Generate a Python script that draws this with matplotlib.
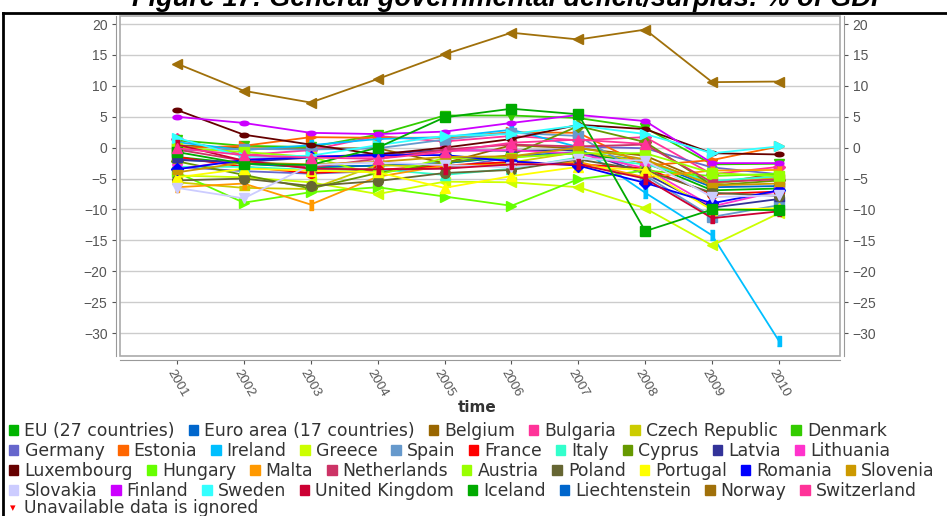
import numpy as np
import matplotlib
matplotlib.use('Agg')
import matplotlib.pyplot as plt
from matplotlib.patches import Patch, Rectangle
from matplotlib.lines import Line2D

plt.rcParams['font.family'] = ['Liberation Sans', 'DejaVu Sans']

years = ['2001', '2002', '2003', '2004', '2005', '2006', '2007', '2008', '2009', '2010']
nan = np.nan

# general government deficit (-) / surplus (+), % of GDP
eu27 = [-1.5, -2.6, -3.2, -2.9, -2.5, -1.5, -0.9, -2.4, -6.9, -6.6]
euro17 = [-1.9, -2.6, -3.1, -2.9, -2.5, -1.4, -0.7, -2.1, -6.4, -6.2]
belgium = [0.4, -0.1, -0.1, -0.1, -2.5, 0.4, -0.1, -1.3, -5.9, -4.1]
bulgaria = [1.4, -1.2, -0.4, 1.9, 1.0, 1.9, 1.2, 1.7, -4.3, -3.1]
czech = [-5.6, -6.5, -6.7, -2.8, -3.2, -2.4, -0.7, -2.2, -5.8, -4.8]
denmark = [1.2, 0.3, 0.1, 2.1, 5.2, 5.2, 4.8, 3.2, -2.7, -2.6]
germany = [-3.1, -3.8, -4.2, -3.8, -3.3, -1.6, 0.2, -0.1, -3.2, -4.3]
estonia = [-0.1, 0.3, 1.7, 1.6, 1.6, 2.5, 2.4, -2.9, -2.0, 0.2]
ireland = [0.9, -0.4, 0.4, 1.4, 1.7, 2.9, 0.1, -7.3, -14.2, -31.3]
greece = [-4.5, -4.8, -5.6, -7.5, -5.5, -5.6, -6.4, -9.8, -15.8, -10.6]
spain = [-0.5, -0.2, -0.3, -0.1, 1.3, 2.4, 1.9, -4.5, -11.2, -9.3]
france = [-1.5, -3.1, -4.1, -3.6, -2.9, -2.3, -2.7, -3.3, -7.5, -7.1]
italy = [-3.1, -3.1, -3.6, -3.5, -4.4, -3.4, -1.6, -2.7, -5.4, -4.6]
cyprus = [-2.2, -4.4, -6.6, -4.1, -2.4, -1.2, 3.5, 0.9, -6.1, -5.3]
latvia = [-2.0, -2.3, -1.6, -1.0, -0.4, -0.5, -0.4, -4.2, -9.7, -8.3]
lithuania = [-3.5, -1.9, -1.3, -1.5, -0.5, -0.4, -1.0, -3.3, -9.5, -7.0]
luxembourg = [6.1, 2.1, 0.5, -1.1, 0.0, 1.4, 3.7, 3.0, -0.9, -1.1]
hungary = [-4.0, -8.9, -7.2, -6.4, -7.9, -9.4, -5.1, -3.7, -4.6, -4.2]
malta = [-6.4, -5.8, -9.2, -4.7, -2.9, -2.8, -2.3, -4.8, -3.7, -3.6]
netherlands = [-0.3, -2.1, -3.2, -1.8, -0.3, 0.5, 0.2, 0.5, -5.6, -5.1]
austria = [0.0, -0.7, -1.5, -4.4, -1.7, -1.6, -0.9, -0.9, -4.1, -4.6]
poland = [-5.3, -5.0, -6.2, -5.4, -4.1, -3.6, -1.9, -3.7, -7.3, -7.8]
portugal = [-4.8, -3.4, -3.7, -4.0, -6.5, -4.6, -3.1, -3.6, -10.1, -9.8]
romania = [-3.5, -2.0, -1.5, -1.2, -1.2, -2.2, -2.9, -5.7, -9.0, -6.9]
slovenia = [-4.0, -2.4, -2.7, -2.3, -1.5, -1.4, 0.0, -1.9, -6.1, -5.8]
slovakia = [-6.5, -8.2, -2.8, -2.4, -2.8, -3.2, -1.8, -2.1, -8.0, -7.7]
finland = [5.0, 4.0, 2.4, 2.2, 2.6, 4.0, 5.3, 4.3, -2.5, -2.5]
sweden = [1.6, -1.5, -1.3, 0.4, 1.9, 2.2, 3.6, 2.2, -0.9, 0.2]
uk = [0.5, -2.1, -3.4, -3.5, -3.4, -2.7, -2.7, -5.0, -11.4, -10.3]
iceland = [-0.7, -2.6, -2.8, 0.0, 4.9, 6.3, 5.4, -13.5, -10.0, -10.1]
liechtenstein = [nan] * 10
norway = [13.6, 9.2, 7.3, 11.1, 15.1, 18.6, 17.5, 19.1, 10.6, 10.7]
switzerland = [-0.1, -1.2, -1.6, -1.8, -0.7, 0.8, 1.3, 0.6, nan, nan]

names = ['EU (27 countries)', 'Euro area (17 countries)', 'Belgium', 'Bulgaria', 'Czech Republic',
         'Denmark', 'Germany', 'Estonia', 'Ireland', 'Greece', 'Spain', 'France', 'Italy',
         'Cyprus', 'Latvia', 'Lithuania', 'Luxembourg', 'Hungary', 'Malta', 'Netherlands',
         'Austria', 'Poland', 'Portugal', 'Romania', 'Slovenia', 'Slovakia', 'Finland',
         'Sweden', 'United Kingdom', 'Iceland', 'Liechtenstein', 'Norway', 'Switzerland']
series = [eu27, euro17, belgium, bulgaria, czech, denmark, germany, estonia, ireland, greece,
          spain, france, italy, cyprus, latvia, lithuania, luxembourg, hungary, malta,
          netherlands, austria, poland, portugal, romania, slovenia, slovakia, finland,
          sweden, uk, iceland, liechtenstein, norway, switzerland]
colors = ['#00B400', '#0066CC', '#996600', '#FF3399', '#CCCC00', '#33CC00', '#6666CC',
          '#FF6600', '#00BFFF', '#CCFF00', '#6699CC', '#FF0000', '#33FFCC', '#669900',
          '#333399', '#FF33CC', '#660000', '#66FF00', '#FF9900', '#CC3366', '#99FF00',
          '#666633', '#FFFF00', '#0000FF', '#CC9900', '#CCCCFF', '#CC00FF', '#33FFFF',
          '#CC0033', '#00AA00', '#0066CC', '#A0700A', '#FF3399']

# marker shapes (jfreechart style)
t = np.linspace(0, 2 * np.pi, 25)
hrect = [(-1, -0.5), (1, -0.5), (1, 0.5), (-1, 0.5)]
vrect = [(-0.5, -1), (0.5, -1), (0.5, 1), (-0.5, 1)]
hell = list(zip(np.cos(t), 0.5 * np.sin(t)))
markers = ['s', 'o', '^', 'D', hrect, 'v', hell, '>', vrect, '<',
           's', 'o', '^', 'D', hrect, 'v', hell, '>', vrect, '<',
           's', 'o', '^', 'D', hrect, 'v', hell, '>', vrect, 's',
           'o', '<', '^']

fig = plt.figure(figsize=(9.47, 5.16), dpi=100)
ax = fig.add_axes([120 / 947, 1 - 356 / 516, 720 / 947, 340 / 516])

x = np.arange(len(years))
for vals, c, m in zip(series, colors, markers):
    ms = 7 if m in ('s', 'o') else 6.5
    ax.plot(x, vals, color=c, lw=1.3, marker=m, ms=ms, mec=c, mfc=c, zorder=3)

# spines first: set_position resets the ticks
for s in ['left', 'right', 'bottom']:
    ax.spines[s].set_position(('outward', 3))
    ax.spines[s].set_color('#999999')
ax.spines['top'].set_visible(False)

ax.set_xlim(-0.85, 9.91)
ax.set_ylim(-33.7, 21.3)
ax.set_yticks(range(-30, 25, 5))
ax.set_xticks(x)
ax.set_xticklabels(years)
ax.grid(axis='y', color='#cccccc', lw=1)
ax.set_axisbelow(True)
ax.tick_params(axis='y', labelright=True, right=True, labelsize=10, colors='#555555',
               length=3, width=0.8, pad=3)
ax.tick_params(axis='x', labelsize=9.5, colors='#555555', length=3, width=0.8, pad=2,
               labelrotation=-60)
ax.add_patch(Rectangle((0, 0), 1, 1, transform=ax.transAxes, fill=False,
                       ec='#aaaaaa', lw=1.2, zorder=4, clip_on=False))
fig.text(477 / 947, 1 - 408 / 516, 'time', fontsize=11, fontweight='bold',
         family='DejaVu Sans', color='#333333', ha='center', va='center')

# title (cut off at the top of the image) and frame
fig.text(0.539, 1 - 6 / 516, 'Figure 17: General governmental deficit/surplus: % of GDP',
         ha='center', va='baseline', fontsize=19.5, fontweight='bold', style='italic')
fig.add_artist(Line2D([3 / 947, 1], [1 - 13 / 516] * 2, color='black', lw=2))
fig.add_artist(Line2D([3 / 947] * 2, [0, 1 - 13 / 516], color='black', lw=2))

# legend rows
rows = [names[0:6], names[6:16], names[16:25], names[25:33]]
row_y = [431, 451, 471, 491]
for row, yy in zip(rows, row_y):
    handles = [Patch(color=colors[names.index(n)]) for n in row]
    fig.legend(handles, row, ncol=len(row), loc='center left',
               bbox_to_anchor=(9 / 947, 1 - yy / 516), frameon=False,
               prop={'family': 'DejaVu Sans', 'size': 12.4},
               handlelength=0.55, handleheight=0.55, handletextpad=0.35,
               columnspacing=0.8, borderpad=0, borderaxespad=0, labelcolor='#333333')

fig.text(10 / 947, 1 - 508 / 516, '\u25BE', color='red', fontsize=8, va='center',
         family='DejaVu Sans')
fig.text(24 / 947, 1 - 508 / 516, 'Unavailable data is ignored', fontsize=12.3,
         va='center', color='#333333', family='DejaVu Sans')

fig.savefig('out.png', dpi=100)
